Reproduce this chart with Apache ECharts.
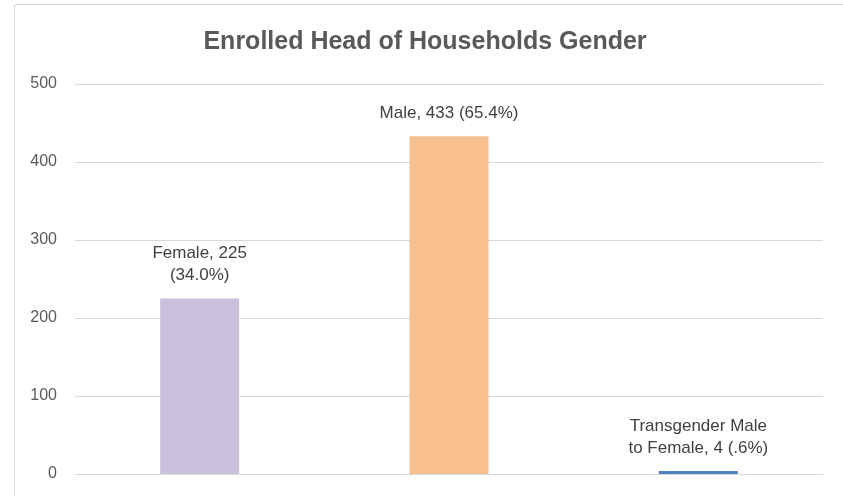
<!DOCTYPE html>
<html>
<head>
<meta charset="utf-8">
<script src="https://cdn.jsdelivr.net/npm/echarts@6/dist/echarts.min.js"></script>
<style>
  html, body { margin: 0; padding: 0; background: #fff; }
  #chart { width: 843px; height: 496px; }
</style>
</head>
<body>
<div id="chart"></div>
<script>
// chart data
const categories = ['Female', 'Male', 'Transgender Male to Female']
const values = [225, 433, 4]
const shares = ['34.0%', '65.4%', '.6%']
const barColors = ['#CBC0DC', '#F9C08F', '#4F81BD']
// wrapped label text as shown in the picture
const labelTexts = ['Female, 225\n(34.0%)', 'Male, 433 (65.4%)', 'Transgender Male\nto Female, 4 (.6%)']
const yTicks = [0, 100, 200, 300, 400, 500]

const chart = echarts.init(document.getElementById('chart'), null, { renderer: 'canvas' })

const option = {
  animation: false,
  backgroundColor: '#fff',
  title: {
    text: 'Enrolled Head of Households Gender',
    left: 420,
    top: 25,
    textAlign: 'center',
    textStyle: {
      fontFamily: 'Liberation Sans',
      fontWeight: 'bold',
      fontSize: 25,
      color: '#595959'
    }
  },
  graphic: [
    {
      type: 'rect',
      shape: { x: 14.5, y: 4.5, width: 860, height: 520 },
      style: { fill: 'none', stroke: '#D9D9D9', lineWidth: 1 },
      silent: true
    }
  ],
  grid: {
    left: 75,
    right: 20,
    top: 84,
    bottom: 22,
    containLabel: false
  },
  xAxis: {
    type: 'category',
    data: categories,
    axisLine: { show: true, lineStyle: { color: '#D9D9D9', width: 1 } },
    axisTick: { show: false },
    axisLabel: { show: false }
  },
  yAxis: {
    type: 'value',
    min: yTicks[0],
    max: yTicks[yTicks.length - 1],
    interval: 100,
    axisLine: { show: false },
    axisTick: { show: false },
    axisLabel: {
      color: '#595959',
      fontFamily: 'Liberation Sans',
      fontSize: 16,
      margin: 18
    },
    splitLine: {
      lineStyle: { color: '#D9D9D9', width: 1, type: 'solid' }
    }
  },
  series: [
    {
      type: 'bar',
      barWidth: 79,
      data: values.map((v, i) => ({
        value: v,
        itemStyle: { color: barColors[i] },
        label: { formatter: labelTexts[i] }
      })),
      label: {
        show: true,
        position: 'top',
        distance: 12,
        color: '#404040',
        fontFamily: 'Liberation Sans',
        fontSize: 17,
        lineHeight: 22,
        align: 'center'
      }
    }
  ]
}

chart.setOption(option)
</script>
</body>
</html>
